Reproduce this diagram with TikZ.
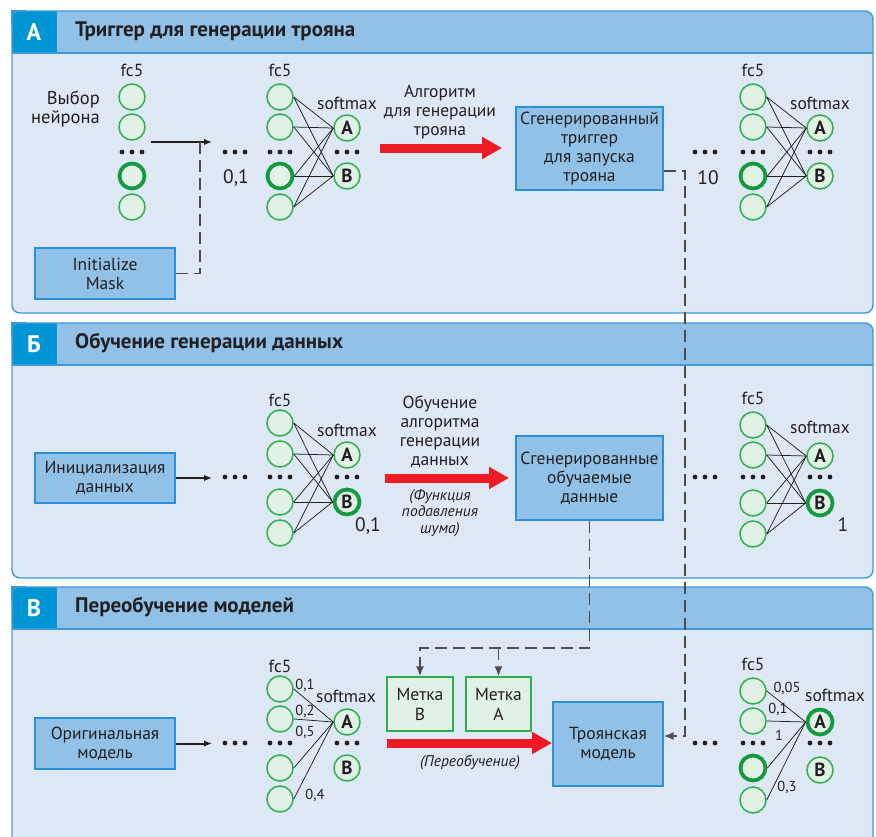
\documentclass[tikz,border=0pt]{standalone}
\usepackage{fontspec}
\setmainfont{PT Sans}
\usetikzlibrary{arrows.meta}
\definecolor{panelbg}{HTML}{DEE8F5}
\definecolor{headbg}{HTML}{92C1E7}
\definecolor{letterbg}{HTML}{0096D6}
\definecolor{panelline}{HTML}{3D9ADA}
\definecolor{boxfill}{HTML}{92C1E7}
\definecolor{boxline}{HTML}{2B8ED8}
\definecolor{nfill}{HTML}{E2F1E6}
\definecolor{nline}{HTML}{2DB04B}
\definecolor{nthick}{HTML}{149A3E}
\definecolor{redarr}{HTML}{ED1C24}
\definecolor{dashc}{HTML}{4D4D4D}
\definecolor{txtc}{HTML}{231F20}
\newcommand\fs[2]{\fontsize{#1}{#2}\selectfont}
\newcommand\tdots[2]{\fill[txtc] (#1-10,#2) circle (2.4) (#1,#2) circle (2.4) (#1+10,#2) circle (2.4);}
\newcommand\panelbox[5]{%
  \fill[panelbg, rounded corners=8] (12,#2) rectangle (873,#3);
  \fill[headbg, rounded corners=8] (12,#2) rectangle (873,#2+42);
  \fill[headbg] (12,#2+20) rectangle (873,#2+42);
  \fill[letterbg] (12,#2) rectangle (57,#2+42);
  \draw[panelline, line width=1.2] (12,#2+42) -- (873,#2+42);
  \draw[panelline, line width=1.4, rounded corners=8] (12,#2) rectangle (873,#3);
  \draw[panelline, line width=1.4] (12,#2+14) -- (12,#2) -- (26,#2);
  \node[panelletter] (#1L) at (34,#2+21) {#4};
  \node[headtxt] (#1T) at (75,#2+20) {#5};
}
\begin{document}
\begin{tikzpicture}[x=1pt,y=-1pt,
  txt/.style={font=\fs{17.5}{19}, align=center, inner sep=0, text=txtc},
  headtxt/.style={font=\bfseries\fs{21}{22}, anchor=west, inner sep=0, text=txtc},
  panelletter/.style={font=\bfseries\fs{24}{24}, text=white, inner sep=0},
  bluebox/.style={draw=boxline, fill=boxfill, line width=1.3, align=center, font=\fs{17.5}{19}, inner sep=0, text=txtc},
  greenbox/.style={draw=nline, fill=nfill, line width=1.3, align=center, font=\fs{17.5}{20}, inner sep=0, text=txtc},
  neu/.style={circle, draw=nline, fill=nfill, line width=1.5, minimum size=26, inner sep=0},
  neuT/.style={neu, draw=nthick, line width=3.8, minimum size=25},
  smx/.style={neu, font=\bfseries\fs{19}{19}, text=txtc},
  smxT/.style={smx, draw=nthick, line width=3.8, minimum size=25},
  numlbl/.style={font=\fs{19.5}{19.5}, inner sep=0, text=txtc},
  elbl/.style={font=\fs{14.5}{14.5}, inner sep=0, text=txtc},
  ital/.style={font=\itshape\fs{15.5}{16.5}, align=center, inner sep=0, text=txtc},
  conn/.style={line width=0.75, txtc},
  blkarrow/.style={line width=2, txtc, -{Latex[length=8,width=6.5]}},
  dsh/.style={dashc, line width=1.6, dash pattern=on 12 off 6},
  dsharrow/.style={dsh, -{Latex[length=10,width=8]}},
  redarrow/.style={redarr, line width=9, -{Triangle[length=20,width=21]}}
]
\useasboundingbox (0,0) rectangle (876,836);
\clip (0,0) rectangle (876,836);

% ---------- panels ----------
\panelbox{pA}{11}{313}{А}{Триггер для генерации трояна}
\panelbox{pB}{323}{578}{Б}{Обучение генерации данных}
\panelbox{pC}{587}{870}{В}{Переобучение моделей}

% ================= PANEL A =================
\node[txt] (a0fc) at (132,70) {fc5};
\node[txt, align=right, anchor=east, font=\fs{18.5}{19}] (a0sel) at (100,109) {Выбор\\нейрона};
\node[neu] (a0n1) at (132,97) {};
\node[neu] (a0n2) at (132,127) {};
\node[neuT] (a0n3) at (132,176) {};
\node[neu] (a0n4) at (132,207) {};
\tdots{132}{152}

\node[bluebox, minimum width=140, minimum height=51] (mask) at (105,273.5) {Initialize\\Mask};
\coordinate (a0s) at (151,142);
\coordinate (a0e) at (212,142);
\draw[blkarrow] (a0s) -- (a0e);
\draw[dsh] (mask.east) -- (200,273.5) -- (200,142);
\tdots{235}{152}
\node[numlbl] (a1v) at (236,178) {0,1};

% network A-mid
\node[txt] (a1fc) at (280,70) {fc5};
\node[neu] (a1n1) at (280,97) {};
\node[neu] (a1n2) at (280,127) {};
\node[neuT] (a1n3) at (280,176) {};
\node[neu] (a1n4) at (280,207) {};
\tdots{280}{152}
\node[txt] (a1sm) at (347,103) {softmax};
\node[smx] (a1A) at (347,128) {А};
\node[smx] (a1B) at (347,176) {В};
\tdots{347}{152}
\foreach \i in {1,...,4}{\draw[conn] (a1n\i.east) -- (a1A.west); \draw[conn] (a1n\i.east) -- (a1B.west);}

\node[txt] (a2txt) at (440,112) {Алгоритм\\для генерации\\трояна};
\coordinate (a2s) at (380,148);
\coordinate (a2e) at (502,148);
\draw[redarrow] (a2s) -- (a2e);
\node[bluebox, minimum width=147, minimum height=83] (trig) at (589.5,148.5) {Сгенерированный\\триггер\\для запуска\\трояна};

\tdots{705}{152}
\node[numlbl] (a3v) at (708,178) {10};
\node[txt] (a3fc) at (753,70) {fc5};
\node[neu] (a3n1) at (753,97) {};
\node[neu] (a3n2) at (753,127) {};
\node[neuT] (a3n3) at (753,176) {};
\node[neu] (a3n4) at (753,207) {};
\tdots{753}{152}
\node[txt] (a3sm) at (820,103) {softmax};
\node[smx] (a3A) at (820,128) {А};
\node[smx] (a3B) at (820,176) {В};
\tdots{820}{152}
\foreach \i in {1,...,4}{\draw[conn] (a3n\i.east) -- (a3A.west); \draw[conn] (a3n\i.east) -- (a3B.west);}

% ================= PANEL B =================
\node[bluebox, minimum width=140, minimum height=50] (init) at (105,478) {Инициализация\\данных};
\coordinate (b0e) at (212,478);
\draw[blkarrow] (init.east) -- (b0e);
\tdots{235}{477}

\node[txt] (b1fc) at (280,400) {fc5};
\node[neu] (b1n1) at (280,423) {};
\node[neu] (b1n2) at (280,454) {};
\node[neu] (b1n3) at (280,502) {};
\node[neu] (b1n4) at (280,533) {};
\tdots{280}{477}
\node[txt] (b1sm) at (347,430) {softmax};
\node[smx] (b1A) at (347,455) {А};
\node[smxT] (b1B) at (347,502) {В};
\tdots{347}{477}
\node[numlbl] (b1v) at (368,526) {0,1};
\foreach \i in {1,...,4}{\draw[conn] (b1n\i.east) -- (b1A.west); \draw[conn] (b1n\i.east) -- (b1B.west);}

\node[txt] (b2txt) at (440,431.5) {Обучение\\алгоритма\\генерации\\данных};
\coordinate (b2s) at (385,478);
\coordinate (b2e) at (509,478);
\draw[redarrow] (b2s) -- (b2e);
\node[ital] (b2it) at (440,513) {(Функция\\подавления\\шума)};
\node[bluebox, minimum width=147, minimum height=84] (gdata) at (589.5,478) {Сгенерированные\\обучаемые\\данные};

\tdots{705}{477}
\node[txt] (b3fc) at (753,398) {fc5};
\node[neu] (b3n1) at (753,425) {};
\node[neu] (b3n2) at (753,455) {};
\node[neu] (b3n3) at (753,503) {};
\node[neu] (b3n4) at (753,534) {};
\tdots{753}{477}
\node[txt] (b3sm) at (820,427) {softmax};
\node[smx] (b3A) at (820,456) {А};
\node[smxT] (b3B) at (820,503) {В};
\tdots{820}{477}
\node[numlbl] (b3v) at (843,525) {1};
\foreach \i in {1,...,4}{\draw[conn] (b3n\i.east) -- (b3A.west); \draw[conn] (b3n\i.east) -- (b3B.west);}

% ================= PANEL C =================
\node[bluebox, minimum width=140, minimum height=51] (orig) at (105,743.5) {Оригинальная\\модель};
\coordinate (c0e) at (212,743.5);
\draw[blkarrow] (orig.east) -- (c0e);
\tdots{235}{743}

\node[txt] (c1fc) at (280,666) {fc5};
\node[neu] (c1n1) at (280,689) {};
\node[neu] (c1n2) at (280,719) {};
\node[neu] (c1n3) at (280,768) {};
\node[neu] (c1n4) at (280,799) {};
\tdots{280}{743}
\node[txt] (c1sm) at (346,696) {softmax};
\node[smx] (c1A) at (347,722) {А};
\node[smx] (c1B) at (347,768) {В};
\tdots{347}{743}
\foreach \i in {1,...,4}{\draw[conn] (c1n\i.east) -- (c1A.west);}
\node[elbl] (c1l1) at (305,685) {0,1};
\node[elbl] (c1l2) at (305,711) {0,2};
\node[elbl] (c1l3) at (305,732) {0,5};
\node[elbl] (c1l4) at (315,795) {0,4};

\node[greenbox, minimum width=66, minimum height=54] (lblB) at (420,704) {Метка\\В};
\node[greenbox, minimum width=65, minimum height=54] (lblA) at (498.5,704) {Метка\\А};
\coordinate (c2s) at (387,743);
\coordinate (c2e) at (552,743);
\draw[redarrow] (c2s) -- (c2e);
\node[ital] (c2it) at (470,763) {(Переобучение)};
\node[bluebox, minimum width=110, minimum height=84] (troj) at (608,744) {Троянская\\модель};

\tdots{705}{743}
\node[txt] (c3fc) at (753,664) {fc5};
\node[neu] (c3n1) at (753,691) {};
\node[neu] (c3n2) at (753,721) {};
\node[neuT] (c3n3) at (753,768) {};
\node[neu] (c3n4) at (753,800) {};
\tdots{753}{743}
\node[txt] (c3sm) at (835,695) {softmax};
\node[smxT] (c3A) at (820,722) {А};
\node[smx] (c3B) at (820,770) {В};
\tdots{820}{743}
\foreach \i in {1,...,4}{\draw[conn] (c3n\i.east) -- (c3A.west);}
\node[elbl] (c3l1) at (787,688) {0,05};
\node[elbl] (c3l2) at (778,709) {0,1};
\node[elbl] (c3l3) at (779,735) {1};
\node[elbl] (c3l4) at (787,787) {0,3};

% ---------- dashed connectors ----------
\draw[dsharrow] (trig.east |- 0,171) -- (685,171) -- (685,736) -- (troj.east |- 0,736);
\draw[dsharrow] (gdata.south) -- (589.5,648) -- (420,648) -- (lblB.north);
\draw[dsharrow] (498.5,648) -- (lblA.north);
\end{tikzpicture}
\end{document}
